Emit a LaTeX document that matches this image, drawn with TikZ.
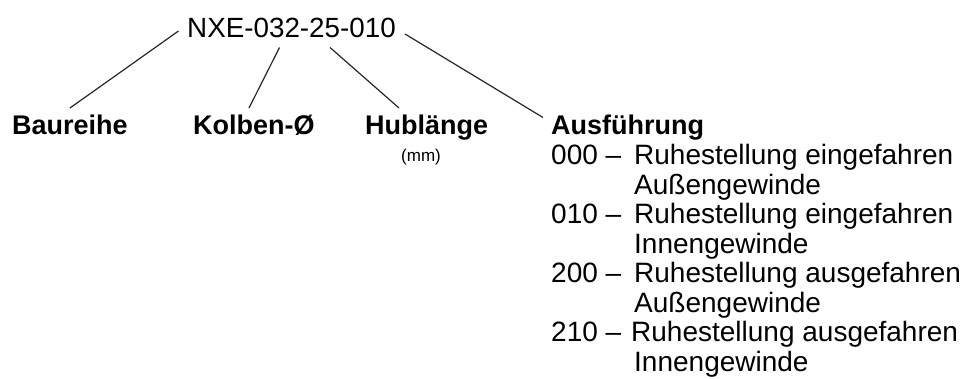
\documentclass[tikz,border=0pt]{standalone}
\usepackage{fontspec}
\setmainfont{Liberation Sans}
\usetikzlibrary{calc}
\tikzset{
  codetext/.style={font=\fontsize{27.8}{30}\selectfont, inner sep=0pt, anchor=base west},
  boldlabel/.style={font=\bfseries\fontsize{27}{30}\selectfont, inner sep=0pt, anchor=base west},
  smalltext/.style={font=\fontsize{17}{19}\selectfont, inner sep=0pt, anchor=base},
  listtext/.style={font=\fontsize{28}{30}\selectfont, inner sep=0pt, anchor=base west},
  conn/.style={line width=1.2pt, black!85}
}
\begin{document}
\begin{tikzpicture}[x=1pt,y=-1pt]
\useasboundingbox (0,0) rectangle (966,378);
% code
\node[codetext] (code) at (187,37) {NXE-032-25-010};
% labels
\node[boldlabel] (baureihe) at (12,134) {Baureihe};
\node[boldlabel] (kolben) at (193,134) {Kolben-Ø};
\node[boldlabel] (hub) at (365,134) {Hublänge};
\node[smalltext] (mm) at (421,161) {(mm)};
\node[boldlabel] (ausf) at (551,134.5) {Ausführung};
% list
\node[listtext] (n1) at (551,164.5) {000 –};
\node[listtext] (t1) at (634,164.5) {Ruhestellung eingefahren};
\node[listtext] (t1b) at (634,194) {Außengewinde};
\node[listtext] (n2) at (551,223.5) {010 –};
\node[listtext] (t2) at (634,223.5) {Ruhestellung eingefahren};
\node[listtext] (t2b) at (634,253) {Innengewinde};
\node[listtext] (n3) at (551,282.5) {200 –};
\node[listtext] (t3) at (634,282.5) {Ruhestellung ausgefahren};
\node[listtext] (t3b) at (634,312) {Außengewinde};
\node[listtext] (n4) at (551,341.5) {210 –};
\node[listtext] (t4) at (631,341.5) {Ruhestellung ausgefahren};
\node[listtext] (t4b) at (634,371) {Innengewinde};
% connector end points
\coordinate (a1) at ($(code.base west)+(-8.5,-6)$);
\coordinate (b1) at ($(baureihe.base)+(0,-26)$);
\coordinate (a2) at ($(code.base west)+(92.5,10.5)$);
\coordinate (b2) at ($(kolben.base west)+(56,-26)$);
\coordinate (a3) at ($(code.base west)+(143,10.5)$);
\coordinate (b3) at ($(hub.base west)+(34,-26)$);
\coordinate (a4) at ($(code.base east)+(9,-3)$);
\coordinate (b4) at ($(ausf.base west)+(-8,-17)$);
\draw[conn] (a1) -- (b1);
\draw[conn] (a2) -- (b2);
\draw[conn] (a3) -- (b3);
\draw[conn] (a4) -- (b4);
\end{tikzpicture}
\end{document}
